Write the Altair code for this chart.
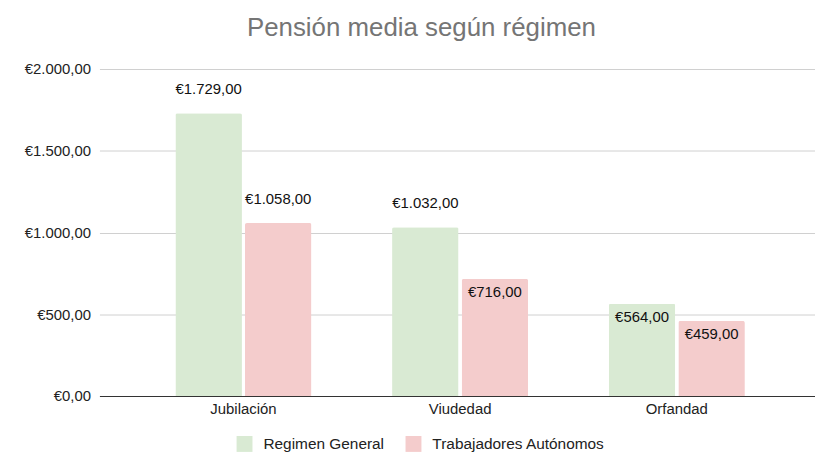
import altair as alt
import pandas as pd

categories = ["Jubilación", "Viudedad", "Orfandad"]
series = ["Regimen General", "Trabajadores Autónomos"]
general = [1729, 1032, 564]
autonomos = [1058, 716, 459]

rows = []
for i, c in enumerate(categories):
    rows.append({"cat": c, "serie": series[0], "value": general[i]})
    rows.append({"cat": c, "serie": series[1], "value": autonomos[i]})
df = pd.DataFrame(rows)

FONT = "Liberation Sans"

x = alt.X("cat:N", sort=categories, title=None,
          scale=alt.Scale(paddingInner=0.3716, paddingOuter=0.337, align=0.52),
          axis=alt.Axis(labelAngle=0, labelFontSize=15, labelColor="#222222",
                        labelFont=FONT, labelPadding=6, ticks=False,
                        domainColor="#333333", domainWidth=1.2, grid=False))
xo = alt.XOffset("serie:N", sort=series,
                 scale=alt.Scale(paddingInner=0.043, paddingOuter=0))
y = alt.Y("value:Q", title=None,
          scale=alt.Scale(domain=[0, 2000]),
          axis=alt.Axis(values=[0, 500, 1000, 1500, 2000], format="$,.2f",
                        labelFontSize=15, labelColor="#222222", labelFont=FONT,
                        labelPadding=9, ticks=False, domain=False,
                        gridColor="#d0d0d0", gridWidth=1))

color = alt.Color("serie:N", sort=series,
                  scale=alt.Scale(domain=series, range=["#d9ead3", "#f4cccc"]),
                  legend=alt.Legend(title=None, orient="none", direction="horizontal",
                                    legendX=138, legendY=369,
                                    symbolType="square", symbolSize=256,
                                    symbolStrokeWidth=0,
                                    labelFontSize=15.5, labelFont=FONT,
                                    labelColor="#222222", labelOffset=11,
                                    labelLimit=400, columnPadding=21))

bars = alt.Chart(df).mark_bar(cornerRadiusTopLeft=2, cornerRadiusTopRight=2).encode(
    x=x, xOffset=xo, y=y, color=color)

above = alt.Chart(df).transform_filter("datum.value >= 1000").mark_text(
    baseline="middle", dy=-24, fontSize=15, font=FONT, color="#111111").encode(
    x=x, xOffset=xo, y=y, text=alt.Text("value:Q", format="$,.2f"))

inside = alt.Chart(df).transform_filter("datum.value < 1000").mark_text(
    baseline="middle", dy=13, fontSize=15, font=FONT, color="#111111").encode(
    x=x, xOffset=xo, y=y, text=alt.Text("value:Q", format="$,.2f"))

chart = alt.layer(bars, above, inside).properties(
    width=720, height=329,
    autosize=alt.AutoSizeParams(type="none"),
    padding={"left": 92, "top": 60, "right": 0, "bottom": 64},
    title=alt.TitleParams("Pensión media según régimen", fontSize=26, font=FONT,
                          fontWeight="normal", color="#757575", anchor="middle",
                          dx=-36, offset=21),
).configure_view(stroke=None)

chart.save("out.html", embed_options={
    "renderer": "svg", "actions": False,
    "formatLocale": {"decimal": ",", "thousands": ".", "grouping": [3],
                     "currency": ["€", ""]},
})
